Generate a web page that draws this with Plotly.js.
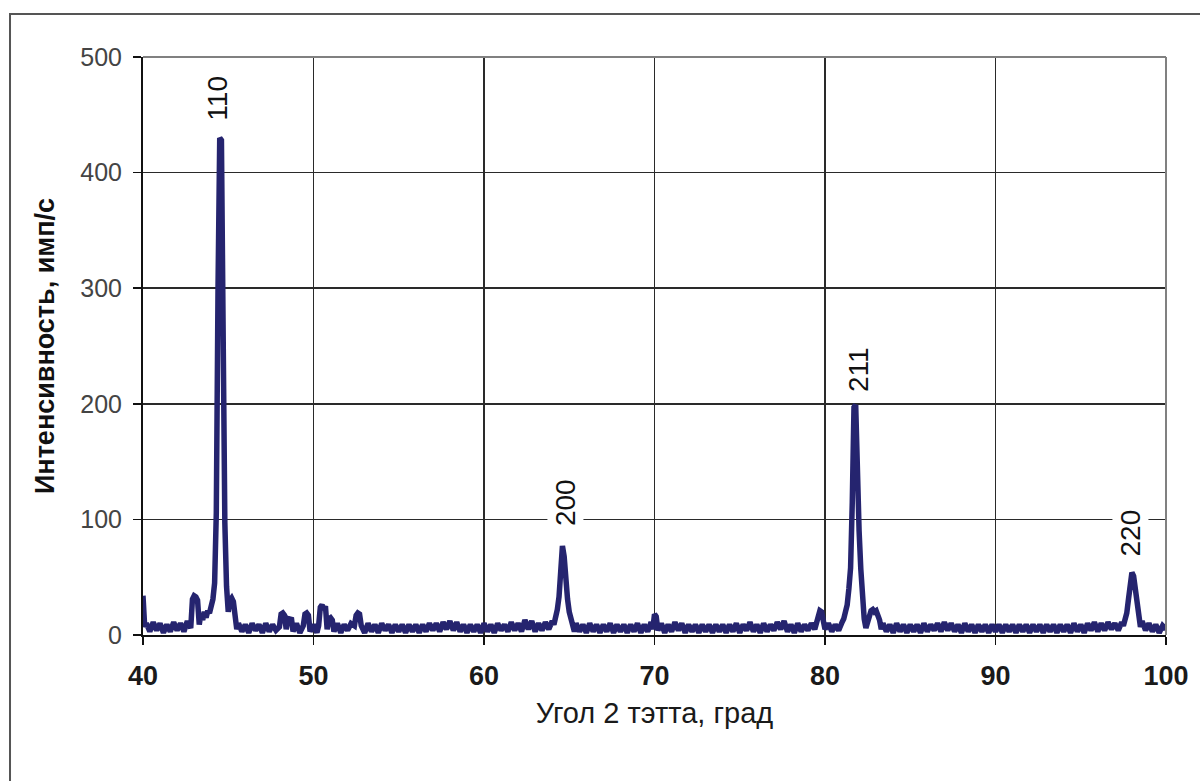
<!DOCTYPE html>
<html>
<head>
<meta charset="utf-8">
<script src="https://cdn.plot.ly/plotly-3.0.1.min.js"></script>
<style>html,body{margin:0;padding:0;background:#fff;}#chart{width:1200px;height:781px;}</style>
</head>
<body>
<div id="chart"></div>
<script>
// 2θ angle (degrees)
const angle = [
  40.0,40.1,40.2,40.4,40.6,40.8,41.0,41.2,41.4,41.6,41.8,42.0,42.2,42.4,42.6,42.8,
  42.9,43.0,43.1,43.2,43.3,43.4,43.5,43.6,43.7,43.8,43.9,44.0,44.1,44.2,44.3,44.4,44.5,44.6,44.7,44.8,44.9,45.0,45.1,45.2,45.3,45.4,45.5,
  45.6,45.8,46.0,46.2,46.4,46.6,46.8,47.0,47.2,47.4,47.6,47.8,48.0,48.1,48.2,48.3,48.4,48.5,48.6,48.7,48.8,49.0,49.2,49.4,49.5,49.6,49.7,49.8,
  50.0,50.2,50.3,50.4,50.5,50.6,50.7,50.8,50.9,51.0,51.1,51.2,51.4,51.6,51.8,52.0,52.2,52.4,52.5,52.6,52.7,52.8,53.0,53.2,
  53.4,53.6,53.8,54.0,54.2,54.4,54.6,54.8,55.0,55.2,55.4,55.6,55.8,56.0,56.2,56.4,56.6,56.8,57.0,57.2,57.4,57.6,57.8,58.0,58.2,58.4,58.6,58.8,
  59.0,59.2,59.4,59.6,59.8,60.0,60.2,60.4,60.6,60.8,61.0,61.2,61.4,61.6,61.8,62.0,62.2,62.4,62.6,62.8,63.0,63.2,63.4,63.6,63.8,64.0,
  64.1,64.2,64.3,64.4,64.5,64.6,64.7,64.8,64.9,65.0,65.1,65.2,65.3,
  65.4,65.6,65.8,66.0,66.2,66.4,66.6,66.8,67.0,67.2,67.4,67.6,67.8,68.0,68.2,68.4,68.6,68.8,69.0,69.2,69.4,69.6,69.8,69.9,70.0,70.1,70.2,
  70.4,70.6,70.8,71.0,71.2,71.4,71.6,71.8,72.0,72.2,72.4,72.6,72.8,73.0,73.2,73.4,73.6,73.8,74.0,74.2,74.4,74.6,74.8,75.0,75.2,75.4,75.6,75.8,
  76.0,76.2,76.4,76.6,76.8,77.0,77.2,77.4,77.6,77.8,78.0,78.2,78.4,78.6,78.8,79.0,79.2,79.4,
  79.5,79.6,79.7,79.8,79.9,80.0,80.2,80.4,80.6,80.8,81.0,81.1,81.2,81.3,81.4,81.5,81.6,81.7,81.8,81.9,82.0,82.1,82.2,82.3,82.4,82.5,82.6,82.7,82.8,82.9,83.0,83.1,83.2,83.3,83.4,
  83.6,83.8,84.0,84.2,84.4,84.6,84.8,85.0,85.2,85.4,85.6,85.8,86.0,86.2,86.4,86.6,86.8,87.0,87.2,87.4,87.6,87.8,88.0,88.2,88.4,88.6,88.8,
  89.0,89.2,89.4,89.6,89.8,90.0,90.2,90.4,90.6,90.8,91.0,91.2,91.4,91.6,91.8,92.0,92.2,92.4,92.6,92.8,93.0,93.2,93.4,93.6,93.8,94.0,94.2,94.4,94.6,94.8,
  95.0,95.2,95.4,95.6,95.8,96.0,96.2,96.4,96.6,96.8,97.0,97.2,97.4,
  97.5,97.6,97.7,97.8,97.9,98.0,98.1,98.2,98.3,98.4,98.5,98.6,98.8,99.0,99.2,99.4,99.6,99.8,100.0
];
// intensity (counts per second)
const intensity = [
  34,7,10,3,11,4,10,2,9,3,11,4,10,3,12,6,
  31,34,33,30,9,19,13,20,15,21,19,24,31,45,106,300,430,428,232,97,42,20,30,32,29,11,5,
  10,3,9,2,10,4,9,2,10,3,9,4,7,18,19,17,5,14,13,15,3,10,2,8,18,19,17,3,
  9,2,8,24,26,22,25,5,14,15,13,3,10,2,9,4,10,8,17,19,18,8,2,10,
  3,9,2,10,4,9,2,9,3,9,2,9,3,9,2,9,3,10,4,10,3,11,5,12,4,11,3,9,
  2,9,3,9,2,10,3,9,2,10,4,9,3,11,4,10,3,13,5,12,3,10,4,11,5,12,
  9,15,22,33,52,77,68,46,31,20,14,11,3,
  10,3,9,2,10,3,9,2,9,3,10,2,9,3,9,2,9,3,10,2,9,3,11,5,18,16,4,
  10,2,9,3,11,4,10,2,9,3,9,2,9,3,9,2,9,3,9,2,9,3,10,2,9,4,11,3,
  9,2,10,3,9,4,11,5,12,3,9,2,10,3,9,4,10,5,
  12,16,21,20,11,5,10,3,9,4,11,14,20,26,40,58,115,197,199,118,90,57,30,14,6,12,19,21,22,20,21,17,13,5,10,
  3,9,2,10,3,9,2,9,3,9,2,10,3,9,4,10,3,11,4,10,3,9,2,10,3,9,2,
  9,3,9,2,9,3,9,2,9,3,9,2,9,3,9,2,9,3,9,2,9,3,9,2,9,3,9,2,10,3,
  9,2,10,4,11,3,10,4,11,5,10,4,11,
  8,13,19,31,45,54,51,39,22,14,7,12,4,10,3,9,2,8,5
];
// peak labels (Miller indices)
const peakLabels = ['110','200','211','220'];
const peakLabelX = [44.4, 64.75, 81.93, 97.9];
const peakLabelY = [464, 115, 230, 88];

const FONT = 'Arial, "Liberation Sans", sans-serif';

const trace = {
  x: angle, y: intensity, type: 'scatter', mode: 'lines',
  line: {color: '#25246f', width: 5.5},
  hoverinfo: 'x+y'
};

const annotations = peakLabels.map((t, i) => ({
  x: peakLabelX[i], y: peakLabelY[i], xref: 'x', yref: 'y',
  text: t, textangle: -90, showarrow: false,
  bgcolor: '#ffffff', borderpad: 2,
  font: {family: FONT, size: 28, color: '#111'}
}));

const layout = {
  width: 1200, height: 781,
  margin: {l: 143, r: 34, t: 57, b: 146},
  paper_bgcolor: '#ffffff', plot_bgcolor: '#ffffff',
  showlegend: false,
  xaxis: {
    range: [40, 100], tickvals: [40,50,60,70,80,90,100],
    ticktext: ['40','50','60','70','80','90','100'],
    showgrid: true, gridcolor: '#2a2a2a', gridwidth: 1.5,
    showline: true, linecolor: '#111', linewidth: 2,
    ticks: 'outside', ticklen: 8, tickcolor: '#111', tickwidth: 1.5,
    ticklabelstandoff: 8,
    zeroline: false,
    tickfont: {family: FONT, size: 27, color: '#1a1a1a', weight: 'bold'},
    title: {text: 'Угол 2 тэтта, град', font: {family: FONT, size: 29, color: '#1a1a1a'}, standoff: 12}
  },
  yaxis: {
    range: [0, 500], tickvals: [0,100,200,300,400,500],
    showgrid: true, gridcolor: '#2a2a2a', gridwidth: 1.5,
    showline: true, linecolor: '#111', linewidth: 2,
    ticks: 'outside', ticklen: 8, tickcolor: '#111', tickwidth: 1.5,
    ticklabelstandoff: 6,
    zeroline: false,
    tickfont: {family: FONT, size: 25, color: '#444'},
    title: {text: 'Интенсивность, имп/с', font: {family: FONT, size: 27, color: '#111', weight: 'bold'}, standoff: 18}
  },
  annotations: annotations,
  shapes: [
    {type: 'line', xref: 'paper', yref: 'paper', x0: 0, x1: 1, y0: 1, y1: 1, line: {color: '#808080', width: 2}},
    {type: 'line', xref: 'paper', yref: 'paper', x0: 1, x1: 1, y0: 0, y1: 1, line: {color: '#808080', width: 2}},
    {type: 'rect', xref: 'paper', yref: 'paper', x0: -0.13, x1: 1.04, y0: -0.28, y1: 1.0744, line: {color: '#555', width: 2}, fillcolor: 'rgba(0,0,0,0)'}
  ]
};

Plotly.newPlot('chart', [trace], layout, {displayModeBar: false, staticPlot: true});
</script>
</body>
</html>
